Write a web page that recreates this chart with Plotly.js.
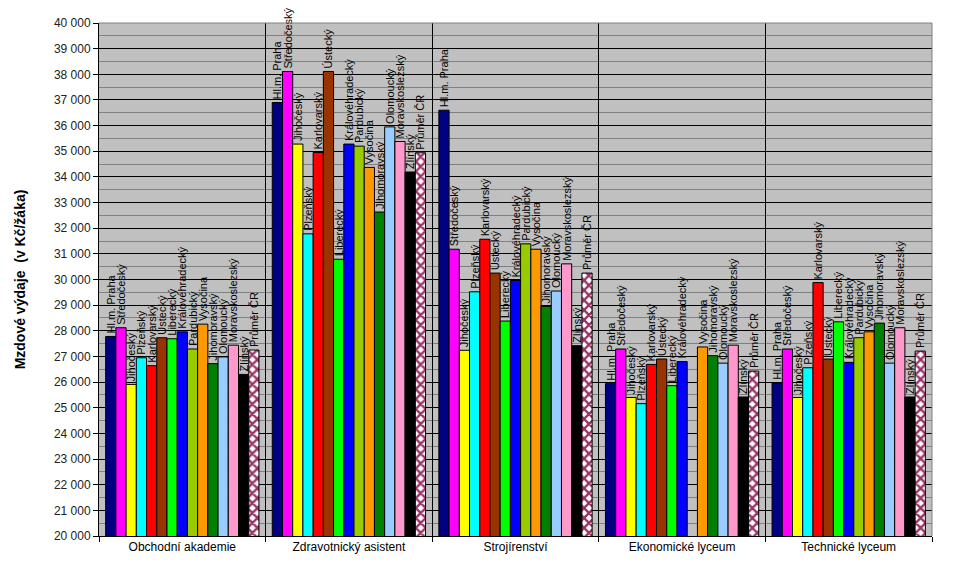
<!DOCTYPE html>
<html>
<head>
<meta charset="utf-8">
<script src="https://cdn.plot.ly/plotly-3.0.1.min.js"></script>
<style>
  html, body { margin: 0; padding: 0; background: #fff; }
  #chart { width: 954px; height: 577px; }
</style>
</head>
<body>
<div id="chart"></div>
<script>
// obory (kategorie na ose x)
const obory = ["Obchodní akademie", "Zdravotnický asistent", "Strojírenství", "Ekonomické lyceum", "Technické lyceum"];

// kraje a jejich hodnoty po oborech (Kč/žáka)
const kraje = [
  "Hl.m. Praha", "Středočeský", "Jihočeský", "Plzeňský", "Karlovarský", "Ústecký", "Liberecký",
  "Královéhradecký", "Pardubický", "Vysočina", "Jihomoravský", "Olomoucký", "Moravskoslezský", "Zlínský", "Průměr ČR"
];

const praha           = [27780, 36900, 36600, 25940, 25970];
const stredocesky     = [28120, 38110, 31180, 27290, 27290];
const jihocesky       = [25910, 35280, 27240, 25400, 25400];
const plzensky        = [26950, 31780, 29520, 25160, 26560];
const karlovarsky     = [26640, 34950, 31570, 26690, 29880];
const ustecky         = [27730, 38110, 30250, 26900, 26900];
const liberecky       = [27690, 30790, 28380, 25860, 28350];
const kralovehradecky = [27960, 35280, 29960, 26800, 26770];
const pardubicky      = [27290, 35200, 31390, null,  27730];
const vysocina        = [28260, 34370, 31180, 27370, 27960];
const jihomoravsky    = [26720, 32630, 28950, 27030, 28300];
const olomoucky       = [26980, 35950, 29550, 26740, 26740];
const moravskoslezsky = [27440, 35380, 30610, 27440, 28120];
const zlinsky         = [26300, 34190, 27420, 25420, 25420];
const prumerCR        = [27250, 34940, 30250, 26430, 27210];

const hodnoty = [praha, stredocesky, jihocesky, plzensky, karlovarsky, ustecky, liberecky,
  kralovehradecky, pardubicky, vysocina, jihomoravsky, olomoucky, moravskoslezsky, zlinsky, prumerCR];

const barvy = ["#000080", "#FF00FF", "#FFFF00", "#00FFFF", "#FF0000", "#993300", "#00FF00",
  "#0000FF", "#99CC00", "#FF9900", "#008000", "#99CCFF", "#FF99CC", "#000000", "#993366"];

const font = "Arial, 'Liberation Sans', sans-serif";

const data = kraje.map((kraj, i) => {
  const prumer = kraj === "Průměr ČR";
  const marker = {
    color: prumer ? "#ffffff" : barvy[i],
    line: { color: "#000000", width: 1 }
  };
  if (prumer) {
    // Excel vzor: bílé kosočtverce na vínovém podkladu
    marker.pattern = { shape: "x", fgcolor: "#993366", bgcolor: "#ffffff", size: 7, solidity: 0.55 };
  }
  return {
    type: "bar",
    name: kraj,
    x: obory,
    y: hodnoty[i],
    text: hodnoty[i].map(v => (v === null ? "" : kraj)),
    textposition: "outside",
    textangle: -90,
    constraintext: "none",
    cliponaxis: false,
    textfont: { family: font, size: 11, color: "#000000" },
    marker: marker,
    hoverinfo: "x+y+name"
  };
});

const layout = {
  width: 954,
  height: 577,
  margin: { l: 99, r: 22, t: 23, b: 41 },
  paper_bgcolor: "#ffffff",
  plot_bgcolor: "#C0C0C0",
  showlegend: false,
  barmode: "group",
  bargap: 0.08,
  bargroupgap: 0,
  separators: ", ",
  font: { family: font, size: 12, color: "#000000" },
  xaxis: {
    type: "category",
    tickson: "boundaries",
    ticks: "outside",
    ticklen: 5,
    tickcolor: "#000000",
    showgrid: true,
    gridcolor: "#000000",
    gridwidth: 1,
    showline: true,
    linecolor: "#000000",
    linewidth: 1,
    tickfont: { family: font, size: 12, color: "#000000" },
    fixedrange: true
  },
  yaxis: {
    range: [20000, 40000],
    dtick: 1000,
    tickformat: ",d",
    ticks: "outside",
    ticklen: 5,
    tickcolor: "#000000",
    showgrid: true,
    gridcolor: "#000000",
    gridwidth: 1,
    minor: { dtick: 500, showgrid: true, gridcolor: "#808080", gridwidth: 1 },
    showline: true,
    linecolor: "#000000",
    linewidth: 1,
    zeroline: false,
    tickfont: { family: font, size: 12, color: "#222222" },
    title: {
      text: "Mzdové výdaje  (v Kč/žáka)",
      font: { family: font, size: 14, color: "#000000", weight: "bold" },
      standoff: 24
    },
    fixedrange: true
  },
  shapes: [
    // šedý rámeček oblasti grafu (nahoře a vpravo)
    { type: "line", xref: "paper", yref: "paper", x0: 0, x1: 1, y0: 1, y1: 1, line: { color: "#808080", width: 1 } },
    { type: "line", xref: "paper", yref: "paper", x0: 1, x1: 1, y0: 0, y1: 1, line: { color: "#808080", width: 1 } }
  ]
};

Plotly.newPlot("chart", data, layout, { displayModeBar: false, staticPlot: true });
</script>
</body>
</html>
